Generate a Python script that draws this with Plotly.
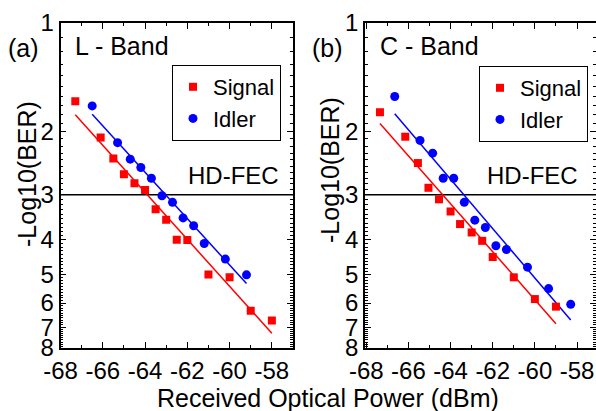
import numpy as np
import plotly.graph_objects as go

# ---------------- data ----------------
a_sig_x = [-67.3, -66.1, -65.5, -65.0, -64.5, -64.0, -63.5, -63.0, -62.5, -62.0, -61.0, -60.0, -59.0, -58.0]
a_sig_y = [1.65, 2.08, 2.38, 2.63, 2.79, 2.91, 3.29, 3.52, 4.00, 4.01, 5.00, 5.09, 6.30, 6.71]
a_idl_x = [-66.5, -65.3, -64.7, -64.2, -63.7, -63.2, -62.7, -62.2, -61.7, -61.2, -60.2, -59.2]
a_idl_y = [1.70, 2.15, 2.39, 2.52, 2.70, 3.02, 3.15, 3.48, 3.66, 4.10, 4.53, 5.01]

b_sig_x = [-67.35, -66.15, -65.55, -65.05, -64.55, -64.0, -63.55, -63.0, -62.5, -62.0, -61.0, -60.0, -59.0]
b_sig_y = [1.77, 2.07, 2.45, 2.87, 3.09, 3.34, 3.62, 3.82, 4.03, 4.47, 5.09, 5.85, 6.14]
b_idl_x = [-66.65, -65.45, -64.85, -64.35, -63.85, -63.35, -62.85, -62.35, -61.85, -61.35, -60.35, -59.35, -58.3]
b_idl_y = [1.60, 2.12, 2.30, 2.70, 2.70, 3.15, 3.53, 3.70, 4.16, 4.26, 4.77, 5.47, 6.05]

hd_fec = 3.0
x_tickvals = [-68, -66, -64, -62, -60, -58]
x_ticktext = ["-68", "-66", "-64", "-62", "-60", "-58"]
y_tickvals = [1, 2, 3, 4, 5, 6, 7, 8]
y_ticktext = ["1", "2", "3", "4", "5", "6", "7", "8"]

# ---------------- styling ----------------
FONT = "Liberation Sans, Arial, sans-serif"
RED = "#ff0000"
BLUE = "#0000ff"
W, H = 596, 411


def fit_line(xs, ys):
    xs = np.asarray(xs, float)
    ly = np.log10(np.asarray(ys, float))
    k, b = np.polyfit(xs, ly, 1)
    fx = np.array([xs.min(), xs.max()])
    return fx, 10 ** (k * fx + b)


fig = go.Figure()

panels = [
    ("x", "y", "legend", a_sig_x, a_sig_y, a_idl_x, a_idl_y, [-68.0, -57.0]),
    ("x2", "y2", "legend2", b_sig_x, b_sig_y, b_idl_x, b_idl_y, [-68.06, -57.1]),
]

for xa, ya, lg, sx, sy, ix, iy, xr in panels:
    # HD-FEC threshold line
    fig.add_trace(go.Scatter(x=xr, y=[hd_fec, hd_fec], mode="lines",
                             line=dict(color="black", width=1.5),
                             xaxis=xa, yaxis=ya, showlegend=False, hoverinfo="skip"))
    fx, fy = fit_line(sx, sy)
    fig.add_trace(go.Scatter(x=fx, y=fy, mode="lines", line=dict(color=RED, width=1.5),
                             xaxis=xa, yaxis=ya, showlegend=False))
    fx, fy = fit_line(ix, iy)
    fig.add_trace(go.Scatter(x=fx, y=fy, mode="lines", line=dict(color=BLUE, width=1.5),
                             xaxis=xa, yaxis=ya, showlegend=False))
    fig.add_trace(go.Scatter(x=sx, y=sy, mode="markers", name="Signal",
                             marker=dict(symbol="square", size=8, color=RED),
                             xaxis=xa, yaxis=ya, legend=lg))
    fig.add_trace(go.Scatter(x=ix, y=iy, mode="markers", name="Idler",
                             marker=dict(symbol="circle", size=9, color=BLUE),
                             xaxis=xa, yaxis=ya, legend=lg))

minor_y = [round(v, 1) for v in np.arange(1.1, 8.0, 0.1) if abs(v - round(v)) > 1e-6]
minor_x = [-67, -65, -63, -61, -59, -57]

ydom = [1 - 348 / H, 1 - 23 / H]


def xaxis(dom, rng):
    return dict(domain=dom, range=rng, tickmode="array", tickvals=x_tickvals,
                ticktext=x_ticktext, ticks="inside", ticklen=6, tickwidth=1.2,
                tickcolor="black", showline=True, linecolor="black", linewidth=1.5,
                mirror="allticks", showgrid=False, zeroline=False,
                tickfont=dict(family=FONT, size=24, color="black"),
                minor=dict(tickmode="array", tickvals=minor_x, ticks="inside",
                           ticklen=3, tickwidth=1, tickcolor="black", showgrid=False))


def yaxis(anchor):
    return dict(domain=ydom, type="log", range=[np.log10(8), 0], anchor=anchor,
                tickmode="array", tickvals=y_tickvals, ticktext=y_ticktext,
                ticks="inside", ticklen=6, tickwidth=1.2, tickcolor="black",
                showline=True, linecolor="black", linewidth=1.5, mirror="allticks",
                showgrid=False, zeroline=False,
                tickfont=dict(family=FONT, size=24, color="black"),
                minor=dict(tickmode="array", tickvals=minor_y, ticks="inside",
                           ticklen=3, tickwidth=1, tickcolor="black", showgrid=False))


def legend(px, py):
    return dict(x=px / W, y=1 - py / H, xanchor="left", yanchor="top",
                bordercolor="black", borderwidth=1, bgcolor="white",
                font=dict(family=FONT, size=22, color="black"),
                itemsizing="trace", tracegroupgap=0)


def txt(s, px, py, size=25, xanchor="left", yanchor="middle", angle=0):
    return dict(text=s, x=px / W, y=1 - py / H, xref="paper", yref="paper",
                showarrow=False, xanchor=xanchor, yanchor=yanchor, textangle=angle,
                font=dict(family=FONT, size=size, color="black"))


annotations = [
    txt("(a)", 6, 48),
    txt("L - Band", 73, 46),
    txt("(b)", 310, 48),
    txt("C - Band", 378, 46),
    txt("HD-FEC", 281, 191, size=24, xanchor="right", yanchor="bottom"),
    txt("HD-FEC", 580, 191, size=24, xanchor="right", yanchor="bottom"),
    txt("-Log10(BER)", 27, 174, angle=-90, xanchor="center"),
    txt("-Log10(BER)", 330, 170, angle=-90, xanchor="center"),
    txt("Received Optical Power (dBm)", 328, 398, xanchor="center"),
]

fig.update_layout(
    width=W, height=H, autosize=False,
    margin=dict(l=0, r=0, t=0, b=0, autoexpand=False),
    paper_bgcolor="white", plot_bgcolor="white",
    font=dict(family=FONT, color="black"),
    xaxis=xaxis([60.5 / W, 293 / W], [-68.0, -57.0]) | dict(anchor="y"),
    yaxis=yaxis("x"),
    xaxis2=xaxis([365 / W, 1.0], [-68.06, -57.1]) | dict(anchor="y2"),
    yaxis2=yaxis("x2"),
    legend=legend(172, 65),
    legend2=legend(479, 66),
    annotations=annotations,
)

fig.write_html("out.html", config={"displayModeBar": False},
               post_script="document.body.style.margin='0';document.body.style.overflow='hidden';")
